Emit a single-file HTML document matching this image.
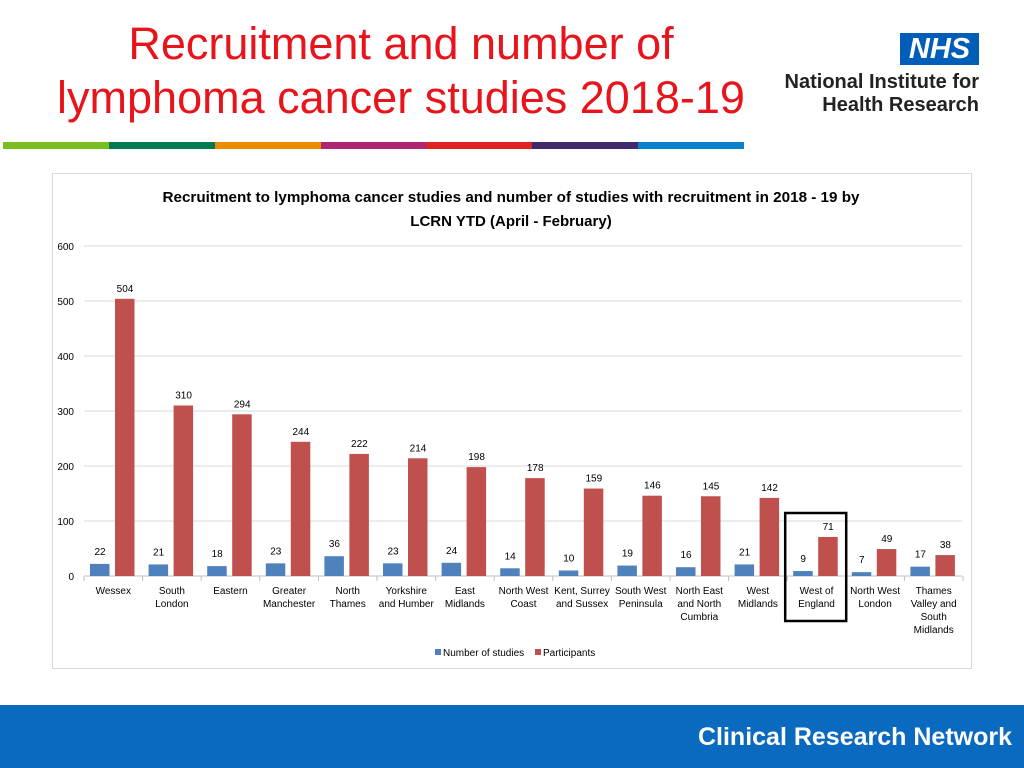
<!DOCTYPE html>
<html><head><meta charset="utf-8"><style>
body{margin:0;width:1024px;height:768px;position:relative;background:#fff;font-family:"Liberation Sans",sans-serif;overflow:hidden}
.t{position:absolute;color:#e8141b;font-size:45px;text-align:center;line-height:54px;white-space:nowrap}
</style></head><body>
<div class="t" style="left:31px;top:17px;width:740px">Recruitment and number of<br>lymphoma cancer studies 2018-19</div>
<div style="position:absolute;left:900px;top:33px;width:79px;height:32px;background:#005eb8;color:#fff;font:italic bold 29px 'Liberation Sans',sans-serif;text-align:center;line-height:32px">NHS</div>
<div style="position:absolute;left:740px;top:71px;width:239px;text-align:right;font:bold 20px 'Liberation Sans',sans-serif;color:#222;line-height:23px;white-space:nowrap">National Institute for<br>Health Research</div>
<div style="position:absolute;left:3px;top:142px;width:741px;height:7px;display:flex">
<div style="flex:1;background:#78be20"></div><div style="flex:1;background:#007a53"></div><div style="flex:1;background:#ed8b00"></div><div style="flex:1;background:#ae2573"></div><div style="flex:1;background:#e02424"></div><div style="flex:1;background:#412a6b"></div><div style="flex:1;background:#0a80cc"></div></div>
<svg id="c" style="position:absolute;left:0;top:0" width="1024" height="768"></svg>
<div style="position:absolute;left:0;top:705px;width:1024px;height:63px;background:#0a6ac0"></div>
<div style="position:absolute;right:12px;top:723px;color:#fff;font:bold 25px 'Liberation Sans',sans-serif">Clinical Research Network</div>
<script>
const categories=[["Wessex"],["South","London"],["Eastern"],["Greater","Manchester"],["North","Thames"],["Yorkshire","and Humber"],["East","Midlands"],["North West","Coast"],["Kent, Surrey","and Sussex"],["South West","Peninsula"],["North East","and North","Cumbria"],["West","Midlands"],["West of","England"],["North West","London"],["Thames","Valley and","South","Midlands"]];
const studies=[22,21,18,23,36,23,24,14,10,19,16,21,9,7,17];
const participants=[504,310,294,244,222,214,198,178,159,146,145,142,71,49,38];
const yTicks=[0,100,200,300,400,500,600];
const NS="http://www.w3.org/2000/svg",svg=document.getElementById("c");
function el(t,a,txt){const e=document.createElementNS(NS,t);for(const k in a)e.setAttribute(k,a[k]);if(txt!==undefined)e.textContent=txt;svg.appendChild(e);return e;}
const x0=84,cw=58.6,y0=576,ys=330/600;
const y=v=>y0-v*ys, x=i=>x0+i*cw;
let r=el("rect",{x:52.5,y:173.5,width:919,height:495,fill:"#fff",stroke:"#d9d9d9"});

let t=el("text",{x:511,y:202,"text-anchor":"middle","font-size":"15","font-weight":"bold",fill:"#000","font-family":"Liberation Sans, sans-serif",textLength:697,lengthAdjust:"spacingAndGlyphs"},"Recruitment to lymphoma cancer studies and number of studies with recruitment in 2018 - 19 by");

t=el("text",{x:511,y:226,"text-anchor":"middle","font-size":"15","font-weight":"bold",fill:"#000","font-family":"Liberation Sans, sans-serif"},"LCRN YTD (April - February)");

yTicks.forEach(v=>{
 const g=el("line",{x1:x0,x2:962,y1:y(v),y2:y(v),stroke:v?"#d9d9d9":"#bfbfbf"});
 
 const l=el("text",{x:74,y:y(v)+4,"text-anchor":"end","font-size":"10",fill:"#000","font-family":"Liberation Sans, sans-serif"},v);
 
});
categories.forEach((c,i)=>{
 const tk=el("line",{x1:x(i),x2:x(i),y1:y0,y2:y0+5,stroke:"#bfbfbf"});
 
 const b=el("rect",{x:x(i)+6,y:y(studies[i]),width:19.5,height:studies[i]*ys,fill:"#4f81bd"});
 
 const p=el("rect",{x:x(i)+31,y:y(participants[i]),width:19.5,height:participants[i]*ys,fill:"#c0504d"});
 
 const a=el("text",{x:x(i)+16,y:y(studies[i])-9,"text-anchor":"middle","font-size":"10",fill:"#000","font-family":"Liberation Sans, sans-serif"},studies[i]);
 
 const q=el("text",{x:x(i)+41,y:y(participants[i])-7,"text-anchor":"middle","font-size":"10",fill:"#000","font-family":"Liberation Sans, sans-serif"},participants[i]);
 
 c.forEach((s,j)=>{const l=el("text",{x:x(i)+cw/2,y:y0+18+j*13,"text-anchor":"middle","font-size":"10",fill:"#000","font-family":"Liberation Sans, sans-serif"},s);
 });
});
const tk=el("line",{x1:x(15),x2:x(15),y1:y0,y2:y0+5,stroke:"#bfbfbf"});

const hl=el("rect",{x:x(12)-2,y:513,width:61,height:108,fill:"none",stroke:"#000","stroke-width":2.5});

[["#4f81bd","Number of studies",435],["#c0504d","Participants",535]].forEach(([col,lab,lx])=>{
 const s=el("rect",{x:lx,y:649,width:6,height:6,fill:col});
 
 const l=el("text",{x:lx+8,y:656,"font-size":"10",fill:"#000","font-family":"Liberation Sans, sans-serif"},lab);
 
});
</script>
</body></html>
